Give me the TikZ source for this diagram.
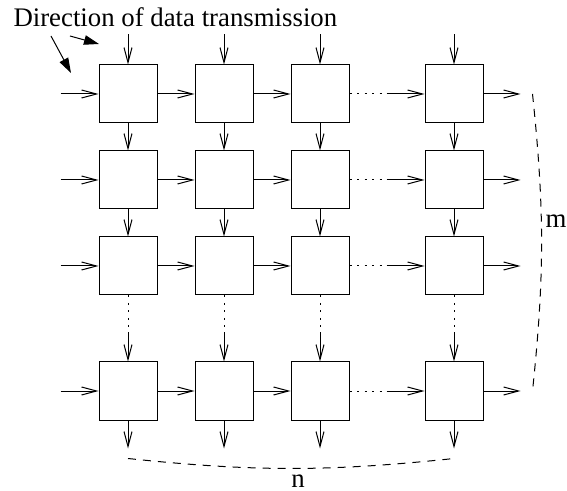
\documentclass[tikz,border=0pt]{standalone}
\usepackage{fontspec}
\setmainfont{Liberation Serif}
\usetikzlibrary{arrows.meta, positioning, calc}

\begin{document}
\begin{tikzpicture}[x=0.5pt, y=-0.5pt, line width=0.5pt,
  font=\fontsize{13.4}{16}\selectfont,
  cell/.style={draw, minimum size=29pt, inner sep=0pt},
  flow/.style={-{Straight Barb[length=7.5pt, width=4pt]}},
  gap/.style={dash pattern=on 1pt off 2.75pt},
  span/.style={dash pattern=on 4pt off 3.5pt},
  hint/.style={-{Triangle[length=7.5pt, width=4.8pt]}}]
\useasboundingbox (0,0) rectangle (567,491);

% processing cells
\foreach \c/\x in {1/128, 2/224, 3/320, 4/454}
  \foreach \r/\y in {1/94, 2/180, 3/266, 4/391}
    \node[cell] (b-\r-\c) at (\x,\y) {};

% rows: data comes in from the left and leaves on the right
\foreach \r in {1,...,4} {
  \draw[flow] ([xshift=-19pt]b-\r-1.west) -- (b-\r-1.west);
  \draw[flow] (b-\r-1.east) -- (b-\r-2.west);
  \draw[flow] (b-\r-2.east) -- (b-\r-3.west);
  \coordinate (h-\r) at ([xshift=-19pt]b-\r-4.west);
  \draw[gap] (b-\r-3.east) -- (h-\r);
  \draw[flow] (h-\r) -- (b-\r-4.west);
  \draw[flow] (b-\r-4.east) -- ([xshift=18.5pt]b-\r-4.east);
}

% columns: data comes in from the top and leaves at the bottom
\foreach \c in {1,...,4} {
  \draw[flow] ([yshift=15pt]b-1-\c.north) -- (b-1-\c.north);
  \draw[flow] (b-1-\c.south) -- (b-2-\c.north);
  \draw[flow] (b-2-\c.south) -- (b-3-\c.north);
  \coordinate (v-\c) at ([yshift=14.5pt]b-4-\c.north);
  \draw[gap] (b-3-\c.south) -- (v-\c);
  \draw[flow] (v-\c) -- (b-4-\c.north);
  \draw[flow] (b-4-\c.south) -- ([yshift=-14pt]b-4-\c.south);
}

% title and its two arrows
\node[anchor=base west, inner sep=0pt] (title) at (13,27) {Direction of data transmission};
\coordinate (d1s) at (51,36);
\coordinate (d1e) at (71,73);
\coordinate (d2s) at (70,36);
\coordinate (d2e) at (99,44);
\draw[hint] (d1s) -- (d1e);
\draw[hint] (d2s) -- (d2e);

% size of the array
\coordinate (m1) at ([xshift=24.5pt]b-1-4.east);
\coordinate (m2) at ([xshift=24.5pt]b-4-4.east);
\draw[span] (m1) to[bend left=6] (m2);
\node[anchor=base west, inner sep=0pt] (m) at (545,228) {m};

\coordinate (n1) at ([yshift=-19pt]b-4-1.south);
\coordinate (n2) at ([yshift=-19pt]b-4-4.south);
\draw[span] (n1) to[bend right=6] (n2);
\node (n) at (298,481) {n};
\end{tikzpicture}
\end{document}
